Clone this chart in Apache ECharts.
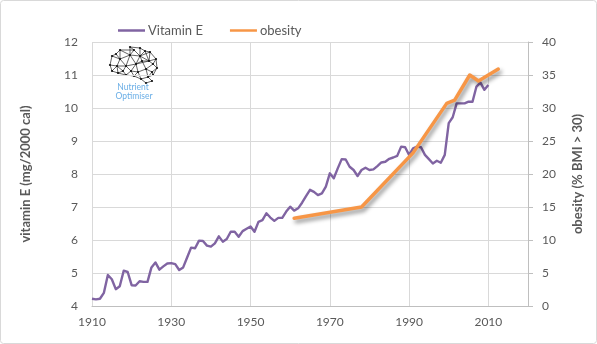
<!DOCTYPE html>
<html>
<head>
<meta charset="utf-8">
<script src="https://cdn.jsdelivr.net/npm/echarts@6/dist/echarts.min.js"></script>
<style>
  html, body { margin: 0; padding: 0; background: #ffffff; }
  #chart { width: 597px; height: 344px; }
</style>
</head>
<body>
<div id="chart"></div>
<script>
// Vitamin E supply per 2000 kcal, one value per year starting at vitaminStartYear
const vitaminStartYear = 1910;
const vitaminE = [
  4.22, 4.20, 4.22, 4.40, 4.94, 4.81, 4.51, 4.60, 5.07, 5.03,   // 1910s
  4.63, 4.62, 4.75, 4.73, 4.73, 5.17, 5.32, 5.10, 5.20, 5.29,   // 1920s
  5.30, 5.27, 5.09, 5.17, 5.47, 5.77, 5.75, 5.98, 5.97, 5.83,   // 1930s
  5.80, 5.90, 6.11, 5.95, 6.03, 6.25, 6.25, 6.10, 6.27, 6.34,   // 1940s
  6.41, 6.25, 6.55, 6.60, 6.81, 6.68, 6.58, 6.67, 6.67, 6.86,   // 1950s
  7.01, 6.89, 6.96, 7.13, 7.33, 7.52, 7.46, 7.36, 7.41, 7.62,   // 1960s
  8.02, 7.87, 8.17, 8.45, 8.44, 8.22, 8.12, 7.94, 8.12, 8.19,   // 1970s
  8.12, 8.14, 8.24, 8.35, 8.37, 8.46, 8.50, 8.55, 8.83, 8.81,   // 1980s
  8.58, 8.78, 8.83, 8.81, 8.58, 8.45, 8.32, 8.40, 8.34, 8.58,   // 1990s
  9.54, 9.72, 10.14, 10.14, 10.14, 10.19, 10.19, 10.65, 10.77, 10.55, // 2000s
  10.70                                                          // 2010
];

// Obesity prevalence (% BMI > 30) by survey mid-year
const obesityYears = [1961, 1978, 1991, 1999.5, 2001.5, 2005.3, 2007.5, 2012.5];
const obesity      = [13.3, 15.0, 23.2, 30.7, 31.2, 35.0, 34.1, 35.9];

// Axis settings
const yearTicks = [1910, 1930, 1950, 1970, 1990, 2010];
const vitaminAxis = { min: 4, max: 12, step: 1 };
const obesityAxis = { min: 0, max: 40, step: 5 };

const vitaminPairs = vitaminE.map((v, i) => [vitaminStartYear + i, v]);
const obesityPairs = obesityYears.map((y, i) => [y, obesity[i]]);

const FONT = 'Lato, "Open Sans", sans-serif';
const TEXT = '#595959';
const GRID = '#d9d9d9';
const AXIS = '#bfbfbf';

// Network-brain logo (nodes joined by thin lines)
const brainNodes = [
  [2,19],[4,10],[12,4],[22,1],[32,2],[42,6],[48,13],[49,22],[45,29],[40,31],
  [44,35],[38,37],[33,33],[26,30],[18,29],[10,27],[4,25],
  [12,13],[22,9],[32,10],[41,15],[18,20],[28,18],[38,23],[30,26],[9,20],
  [26,4],[37,5],[8,8],[45,18],[23,25],[15,25],[34,15],[44,26]
];
const brainEdges = [
  [0,1],[1,28],[28,2],[2,26],[26,3],[3,4],[4,27],[27,5],[5,6],[6,7],[7,8],[8,9],[9,12],[9,10],[10,11],[11,12],[12,13],
  [13,14],[14,15],[15,16],[16,0],
  [1,17],[28,17],[2,17],[2,18],[26,18],[3,18],[4,19],[26,19],[18,19],[27,19],[5,19],[27,20],[5,20],[6,20],[19,20],[17,18],
  [17,25],[0,25],[16,25],[15,25],[25,21],[17,21],[18,21],[21,22],[18,22],[19,22],[19,32],[22,32],[32,20],[32,23],
  [22,20],[20,29],[6,29],[7,29],[29,23],[7,33],[8,33],[23,33],[33,9],[23,24],[22,24],[21,30],[30,24],[24,13],[24,12],[23,9],
  [21,31],[31,14],[31,15],[30,13],[30,14],[31,25],[22,30]
];
const brainOrigin = [108, 46];
const logoElements = [];
brainEdges.forEach(([a, b]) => {
  logoElements.push({
    type: 'line',
    shape: {
      x1: brainOrigin[0] + brainNodes[a][0], y1: brainOrigin[1] + brainNodes[a][1],
      x2: brainOrigin[0] + brainNodes[b][0], y2: brainOrigin[1] + brainNodes[b][1]
    },
    style: { stroke: '#222', lineWidth: 0.7 }
  });
});
brainNodes.forEach(([x, y]) => {
  logoElements.push({
    type: 'circle',
    shape: { cx: brainOrigin[0] + x, cy: brainOrigin[1] + y, r: 1.1 },
    style: { fill: '#111' }
  });
});
logoElements.push(
  { type: 'text', x: 133, y: 83,
    style: { text: 'Nutrient', fill: '#6aaee6', font: '8.5px ' + FONT, textAlign: 'center' } },
  { type: 'text', x: 134, y: 92,
    style: { text: 'Optimiser', fill: '#6aaee6', font: '8.5px ' + FONT, textAlign: 'center' } }
);

const chart = echarts.init(document.getElementById('chart'), null, { renderer: 'canvas' });

chart.setOption({
  animation: false,
  backgroundColor: '#ffffff',
  textStyle: { fontFamily: FONT },
  graphic: [
    { type: 'rect', shape: { x: 0.5, y: 0.5, width: 596, height: 343, r: 3 },
      style: { fill: 'none', stroke: '#d9d9d9', lineWidth: 1 }, z: -1 }
  ].concat(logoElements),
  legend: {
    data: ['Vitamin E', 'obesity'],
    left: 113,
    top: 19,
    icon: 'rect',
    itemWidth: 27,
    itemHeight: 2.5,
    itemGap: 27,
    textStyle: { color: TEXT, fontSize: 13, fontFamily: FONT, padding: [0, 0, 0, -2] }
  },
  grid: { left: 92, right: 69, top: 42, bottom: 38, containLabel: false },
  xAxis: {
    type: 'value',
    min: yearTicks[0],
    max: 2020,
    interval: 20,
    axisLine: { show: true, lineStyle: { color: AXIS, width: 1 } },
    axisTick: { show: false },
    axisLabel: { color: TEXT, fontSize: 12, fontFamily: FONT, margin: 10, showMaxLabel: false,
      formatter: v => (yearTicks.indexOf(v) >= 0 ? String(v) : '') },
    splitLine: { show: true, lineStyle: { color: GRID, width: 1 } }
  },
  yAxis: [
    {
      type: 'value',
      min: vitaminAxis.min,
      max: vitaminAxis.max,
      interval: vitaminAxis.step,
      name: 'vitamin E (mg/2000 cal)',
      nameLocation: 'middle',
      nameGap: 60,
      nameTextStyle: { color: TEXT, fontSize: 13, fontWeight: 'bold', fontFamily: FONT },
      axisLine: { show: false },
      axisTick: { show: false },
      axisLabel: { color: TEXT, fontSize: 12, fontFamily: FONT, margin: 14 },
      splitLine: { show: true, lineStyle: { color: GRID, width: 1 } }
    },
    {
      type: 'value',
      position: 'right',
      min: obesityAxis.min,
      max: obesityAxis.max,
      interval: obesityAxis.step,
      name: 'obesity (% BMI > 30)',
      nameLocation: 'middle',
      nameGap: 43,
      nameRotate: 90,
      nameTextStyle: { color: TEXT, fontSize: 13, fontWeight: 'bold', fontFamily: FONT },
      axisLine: { show: true, lineStyle: { color: AXIS, width: 1 } },
      axisTick: { show: true, length: 5, inside: false, lineStyle: { color: AXIS } },
      axisLabel: { color: TEXT, fontSize: 12, fontFamily: FONT, margin: 14 },
      splitLine: { show: false }
    }
  ],
  series: [
    {
      name: 'Vitamin E',
      type: 'line',
      yAxisIndex: 0,
      data: vitaminPairs,
      showSymbol: false,
      symbol: 'none',
      color: '#8064a2',
      lineStyle: { color: '#8064a2', width: 2.4, join: 'round' },
      z: 3
    },
    {
      name: 'obesity',
      type: 'line',
      yAxisIndex: 1,
      data: obesityPairs,
      showSymbol: false,
      symbol: 'none',
      color: '#f79646',
      lineStyle: {
        color: '#f79646', width: 3.5, join: 'round', cap: 'round',
        shadowColor: 'rgba(0,0,0,0.45)', shadowBlur: 4, shadowOffsetX: 2, shadowOffsetY: 3
      },
      z: 4
    }
  ]
});
</script>
</body>
</html>
